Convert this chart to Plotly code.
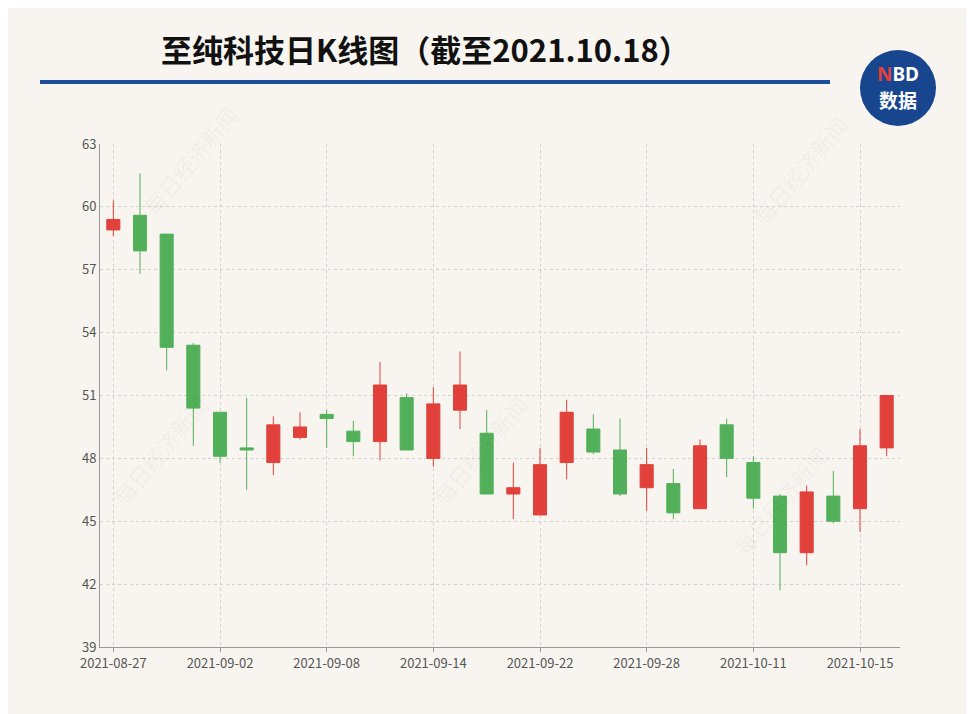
import plotly.graph_objects as go

# ---data--- #
dates = ["2021-08-27", "2021-08-30", "2021-08-31", "2021-09-01", "2021-09-02", "2021-09-03",
         "2021-09-06", "2021-09-07", "2021-09-08", "2021-09-09", "2021-09-10", "2021-09-13",
         "2021-09-14", "2021-09-15", "2021-09-16", "2021-09-17", "2021-09-22", "2021-09-23",
         "2021-09-24", "2021-09-27", "2021-09-28", "2021-09-29", "2021-09-30", "2021-10-08",
         "2021-10-11", "2021-10-12", "2021-10-13", "2021-10-14", "2021-10-15", "2021-10-18"]
opens = [58.9, 59.6, 58.7, 53.4, 50.2, 48.5, 47.8, 49.0, 50.1, 49.3, 48.8, 50.9,
         48.0, 50.3, 49.2, 46.3, 45.3, 47.8, 49.4, 48.4, 46.6, 46.8, 45.6, 49.6,
         47.8, 46.2, 43.5, 46.2, 45.6, 48.5]
highs = [60.3, 61.6, 58.7, 53.5, 50.2, 50.9, 50.0, 50.2, 50.3, 49.8, 52.6, 51.1,
         51.4, 53.1, 50.3, 47.8, 48.5, 50.8, 50.1, 49.9, 48.5, 47.5, 48.9, 49.9,
         48.1, 46.3, 46.7, 47.4, 49.4, 51.0]
lows = [58.6, 56.8, 52.2, 48.6, 47.8, 46.5, 47.2, 48.9, 48.5, 48.1, 47.9, 48.4,
        47.6, 49.4, 46.3, 45.1, 45.3, 47.0, 48.2, 46.2, 45.5, 45.1, 45.6, 47.1,
        45.6, 41.7, 42.9, 44.9, 44.5, 48.1]
closes = [59.4, 57.9, 53.3, 50.4, 48.1, 48.4, 49.6, 49.5, 49.9, 48.8, 51.5, 48.4,
          50.6, 51.5, 46.3, 46.6, 47.7, 50.2, 48.3, 46.3, 47.7, 45.4, 48.6, 48.0,
          46.1, 43.5, 46.4, 45.0, 48.6, 51.0]
tick_dates = ["2021-08-27", "2021-09-02", "2021-09-08", "2021-09-14", "2021-09-22",
              "2021-09-28", "2021-10-11", "2021-10-15"]
y_ticks = [39, 42, 45, 48, 51, 54, 57, 60, 63]

RED = "#e2403a"
GREEN = "#52b05a"
BG = "#f8f5f0"

# plot box (page pixels are these +8)
L, R, T, B = 92, 892, 136, 639


def px(x):
    return (x - 8 - L) / (R - L)


def py(y):
    return (B - (y - 8)) / (B - T)


fig = go.Figure(go.Candlestick(
    x=dates, open=opens, high=highs, low=lows, close=closes,
    increasing=dict(line=dict(color=RED, width=1), fillcolor=RED),
    decreasing=dict(line=dict(color=GREEN, width=1), fillcolor=GREEN),
    whiskerwidth=0, showlegend=False,
))

fig.update_layout(
    width=974, height=714, paper_bgcolor=BG, plot_bgcolor=BG,
    margin=dict(l=L, r=974 - R, t=T, b=714 - B),
    font=dict(family="Noto Sans CJK SC, Noto Sans", color="#555", size=13),
    xaxis=dict(type="category", range=[-0.5, 29.5], rangeslider_visible=False,
               tickvals=tick_dates, ticktext=tick_dates, showgrid=True,
               gridcolor="#d2d2d2", griddash="dot", showline=True, linecolor="#999",
               ticks="outside", ticklen=4, tickcolor="#999"),
    yaxis=dict(range=[39, 63], tickvals=y_ticks, showgrid=True, gridcolor="#d2d2d2",
               griddash="dot", showline=True, linecolor="#999", zeroline=False),
)


def label(text, x, y, size, color, family, angle=0):
    fig.add_annotation(text=text, xref="paper", yref="paper", x=px(x), y=py(y),
                       xanchor="center", yanchor="middle", showarrow=False, textangle=angle,
                       font=dict(size=size, color=color, family=family))


# title and rule
label("<b>至纯科技日K线图（截至2021.10.18）</b>", 425, 48, 31, "#111", "Noto Sans CJK SC")
fig.add_shape(type="line", xref="paper", yref="paper", x0=px(40), x1=px(830),
              y0=py(82), y1=py(82), line=dict(color="#1c4e9c", width=4))
# NBD badge
fig.add_shape(type="circle", xref="paper", yref="paper", x0=px(860), x1=px(936),
              y0=py(126), y1=py(50), fillcolor="#17468f", line=dict(width=0))
label("<b><span style='color:#e2403a'>N</span>BD</b>", 898, 74, 19, "white", "Noto Sans")
label("<b>数据</b>", 898, 99, 19, "white", "Noto Sans CJK SC")
# watermarks
for wx, wy in [(190, 160), (160, 450), (480, 450), (800, 170), (780, 500)]:
    label("每日经济新闻", wx, wy, 22, "rgba(0,0,0,0.05)", "Noto Sans CJK SC", -50)

fig.write_html("out.html")
